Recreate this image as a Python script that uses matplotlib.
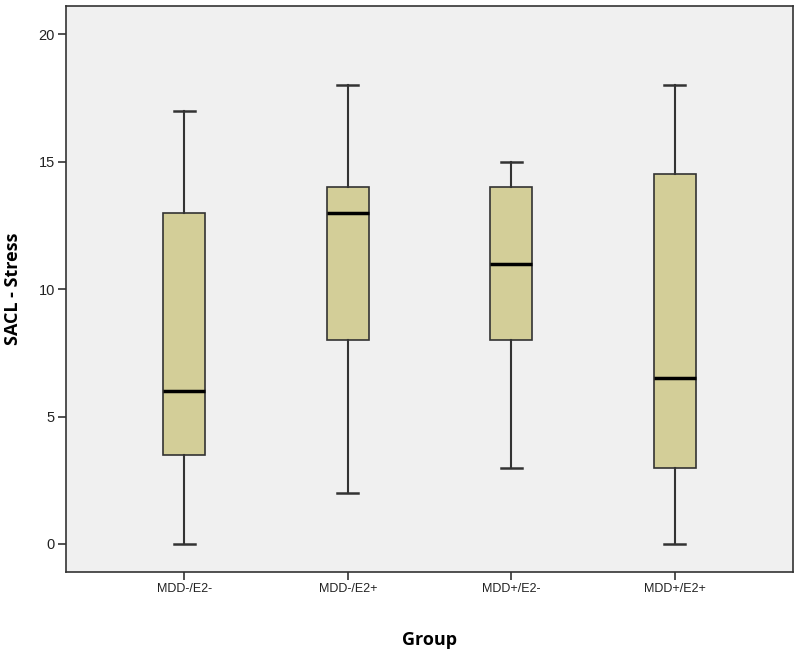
import matplotlib
matplotlib.use("Agg")
import matplotlib.pyplot as plt

# Box plot summary per group (whisker low, Q1, median, Q3, whisker high)
groups = ["MDD-/E2-", "MDD-/E2+", "MDD+/E2-", "MDD+/E2+"]
whislo = [0, 2, 3, 0]
q1 = [3.5, 8, 8, 3]
med = [6, 13, 11, 6.5]
q3 = [13, 14, 14, 14.5]
whishi = [17, 18, 15, 18]

stats = []
for i, g in enumerate(groups):
    stats.append({
        "label": g, "whislo": whislo[i], "q1": q1[i], "med": med[i],
        "q3": q3[i], "whishi": whishi[i], "fliers": [],
    })

fig = plt.figure(figsize=(8, 6.56), dpi=100)
ax = fig.add_axes([0.0825, 0.128, 0.90875, 0.8628])
ax.set_facecolor("#f0f0f0")

ax.bxp(stats, positions=[1, 2, 3, 4], widths=0.257, patch_artist=True,
       showfliers=False,
       boxprops=dict(facecolor="#d3ce98", edgecolor="#333333", linewidth=1.2),
       medianprops=dict(color="black", linewidth=2.5),
       whiskerprops=dict(color="#333333", linewidth=1.5),
       capprops=dict(color="#333333", linewidth=1.8))

ax.set_xlim(0.275, 4.725)
ax.set_ylim(-1.1, 21.1)
ax.set_yticks([0, 5, 10, 15, 20])
ax.set_xticks([1, 2, 3, 4])
ax.set_xticklabels(groups)

for s in ax.spines.values():
    s.set_color("#333333")
    s.set_linewidth(1.2)

ax.tick_params(direction="out", length=6, width=1.2, color="#333333",
               labelcolor="#222222", pad=2)
ax.tick_params(axis="x", labelsize=9)
ax.tick_params(axis="y", labelsize=10.5)
for lab in ax.get_xticklabels() + ax.get_yticklabels():
    lab.set_family("Liberation Sans")

ax.set_ylabel("SACL - Stress", fontsize=13, fontweight="bold",
              family="Open Sans", labelpad=12)
ax.set_xlabel("Group", fontsize=13, fontweight="bold",
              family="Open Sans", labelpad=26)

fig.savefig("out.png", dpi=100)
